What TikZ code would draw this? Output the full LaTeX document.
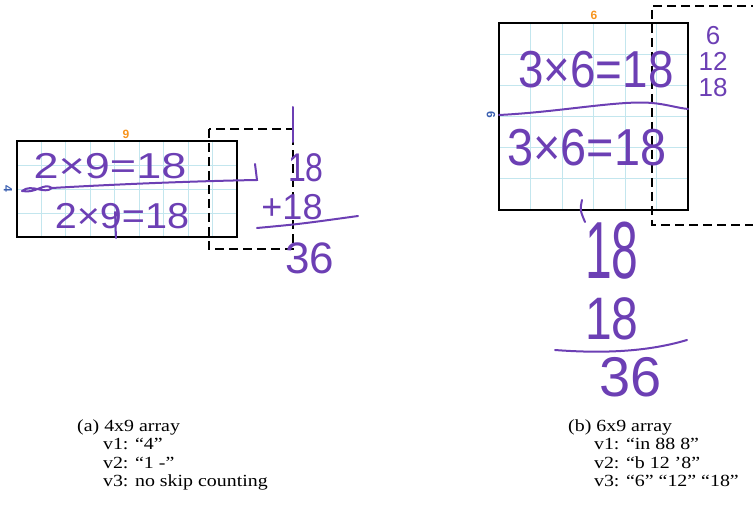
\documentclass[tikz,border=0pt]{standalone}
\usepackage{fontspec}
\setmainfont{Liberation Serif}
\newfontfamily\handfont{Liberation Sans}
\usetikzlibrary{positioning}
\definecolor{ink}{HTML}{6C3FB4}
\definecolor{gridcyan}{HTML}{C3E6EE}
\definecolor{toporange}{HTML}{F7941D}
\definecolor{sideblue}{HTML}{3A5FB0}

\begin{document}
\begin{tikzpicture}[x=1pt, y=-1pt,
  cell/.style={gridcyan, line width=0.8pt},
  array box/.style={draw=black, line width=2.2pt},
  ext box/.style={draw=black, line width=2.2pt, dash pattern=on 9pt off 5pt},
  top label/.style={text=toporange, font=\handfont\bfseries\fontsize{12}{12}\selectfont, inner sep=0pt},
  side label/.style={text=sideblue, font=\handfont\bfseries\fontsize{12}{12}\selectfont, inner sep=0pt, rotate=-90},
  hand/.style={text=ink, inner sep=0pt, font=\handfont\fontsize{#1}{#1}\selectfont},
  stroke/.style={draw=ink, line width=2pt, line cap=round},
  caption/.style={anchor=base west, inner sep=0pt, align=left, xscale=1.17, font=\fontsize{17}{18.5}\selectfont},
]
\useasboundingbox (0,0) rectangle (753,508);

  % 4x9 array
  \foreach \i in {1,...,8} \draw[cell] ({17+\i*24.44},141) -- ({17+\i*24.44},237);
  \foreach \j in {1,2,3} \draw[cell] (17,{141+\j*24}) -- (237,{141+\j*24});
  \draw[array box] (17,141) rectangle (237,237);
  \draw[ext box] (209,129) rectangle (293,249);
  \node[top label] (nineA) at (126,134) {9};
  \node[side label] (fourA) at (8,189) {4};

  % Handwriting on the 4x9 array
  \node[hand=36, xscale=1.25] (topEqA) at (110,166) {2×9=18};
  \node[hand=36, xscale=1.1] (lowEqA) at (122,216) {2×9=18};
  \draw[stroke] (22,191) .. controls (32,183) and (44,195) .. (52,188) .. controls (44,182) and (36,194) .. (22,191);
  \draw[stroke] (52,188) .. controls (120,184) and (200,181) .. (257,180) -- (255,164);
  \draw[stroke] (115,212) -- (116,238);

  % Sum on the right
  \draw[stroke] (293,107) -- (293,142);
  \node[hand=40, xscale=0.8] (sumA) at (306,168) {18};
  \node[hand=36] (sumB) at (292,207) {+18};
  \draw[stroke] (257,228) .. controls (300,224) .. (358,216);
  \node[hand=44] (totA) at (310,258) {36};

  % 6x9 array
  \foreach \i in {1,...,5} \draw[cell] ({499+\i*31.5},23) -- ({499+\i*31.5},210);
  \foreach \j in {1,...,5} \draw[cell] (499,{23+\j*31.17}) -- (688,{23+\j*31.17});
  \draw[array box] (499,23) rectangle (688,210);
  \draw[ext box] (760,6) -- (652,6) -- (652,225) -- (760,225);
  \node[top label] (sixTop) at (594,15) {6};
  \node[side label] (sixSide) at (491,115) {6};

  % Handwriting on the 6x9 array
  \node[hand=52, xscale=0.88] (topEqB) at (596,70) {3×6=18};
  \draw[stroke] (499,115) .. controls (560,112) and (620,100) .. (652,103) .. controls (665,104) and (678,108) .. (688,109);
  \node[hand=52, xscale=0.9] (lowEqB) at (587,148) {3×6=18};
  \node[hand=26, align=center] (skipB) at (713,62) {6\\12\\18};

  % Sum below
  \draw[stroke] (582,200) .. controls (580,210) .. (585,222);
  \node[hand=60, xscale=0.8, yscale=1.35] (addA) at (612,251) {18};
  \node[hand=60, xscale=0.8, yscale=1.0] (addB) at (612,319) {18};
  \draw[stroke] (555,350) .. controls (620,355) and (660,348) .. (687,340);
  \node[hand=56] (totB) at (631,377) {36};

  % Captions
  \node[caption] (capA) at (77,486.5) {(a) 4x9 array\\\hspace*{1.3em}v1: “4”\\\hspace*{1.3em}v2: “1 -”\\\hspace*{1.3em}v3: no skip counting};
  \node[caption] (capB) at (568,486.5) {(b) 6x9 array\\\hspace*{1.3em}v1: “in 88 8”\\\hspace*{1.3em}v2: “b 12 ’8”\\\hspace*{1.3em}v3: “6” “12” “18”};

\end{tikzpicture}
\end{document}
